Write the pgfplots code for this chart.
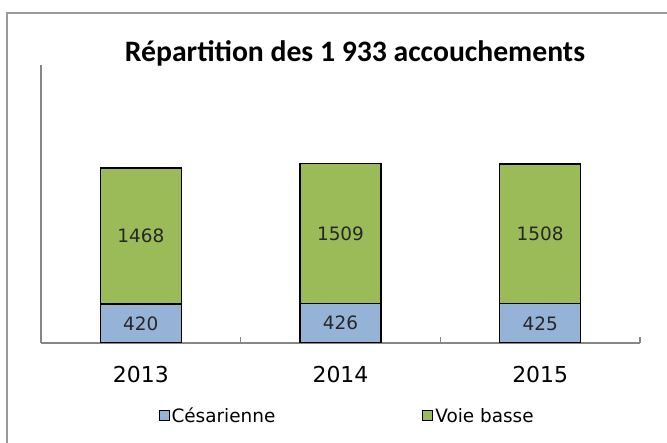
\documentclass[border=0pt]{standalone}
\usepackage{fontspec}
\setmainfont{DejaVu Sans}
\newfontfamily\titlefont{Carlito}
\usepackage{pgfplots}
\pgfplotsset{compat=1.18}
\definecolor{cesblue}{HTML}{95B3D7}
\definecolor{voiegreen}{HTML}{9BBB59}
\definecolor{axgray}{HTML}{868686}
\definecolor{framegray}{HTML}{9A9A9A}
\begin{document}
\begin{tikzpicture}
\useasboundingbox (0,0) rectangle (667bp,443bp);
\clip (0,0) rectangle (667bp,443bp);
\fill[white] (0,0) rectangle (667bp,443bp);
\draw[framegray, line width=1.6bp] (7bp,-10bp) -- (7bp,430bp) -- (700bp,430bp);
\begin{axis}[
  at={(41bp,100bp)}, anchor=south west,
  scale only axis, width=599bp, height=278bp,
  ybar stacked, bar width=81bp,
  xmin=-0.5, xmax=2.5, ymin=0, ymax=3000,
  axis lines*=left,
  axis line style={axgray},
  x axis line style={line width=2.4bp},
  y axis line style={line width=1.8bp},
  ytick=\empty,
  xtick={0,1,2}, xticklabels={2013,2014,2015},
  major tick length=0pt,
  minor xtick={0.5,1.5,2.5},
  minor tick length=6bp,
  tick align=inside,
  minor tick style={axgray, line width=1.4bp},
  xticklabel style={font=\fontsize{22}{24}\selectfont, anchor=center, yshift=-32bp},
  point meta=explicit,
  nodes near coords={\fontsize{18.5}{20}\selectfont\pgfmathprintnumber[assume math mode=true, 1000 sep={}]{\pgfplotspointmeta}},
  every node near coord/.append style={color=black!85, anchor=center},
  legend columns=2,
  legend style={draw=none, fill=none, at={(0.511,-0.262)}, anchor=center, font=\fontsize{18.5}{20}\selectfont, /tikz/every even column/.style={column sep=145bp}, inner sep=0pt},
  legend image code/.code={\draw[#1, draw=black, line width=1bp] (0bp,-5bp) rectangle (10bp,5bp);},
]
\addplot[fill=cesblue, draw=black, line width=1.4bp] coordinates {(0,420) [420] (1,426) [426] (2,425) [425]};
\addlegendentry{Césarienne}
\addplot[fill=voiegreen, draw=black, line width=1.4bp] coordinates {(0,1468) [1468] (1,1509) [1509] (2,1508) [1508]};
\addlegendentry{Voie basse}
\end{axis}
\node[font=\titlefont\bfseries\fontsize{29.8}{32}\selectfont, anchor=base] at (355bp,381bp) {Répartition des 1 933 accouchements};
\end{tikzpicture}
\end{document}
